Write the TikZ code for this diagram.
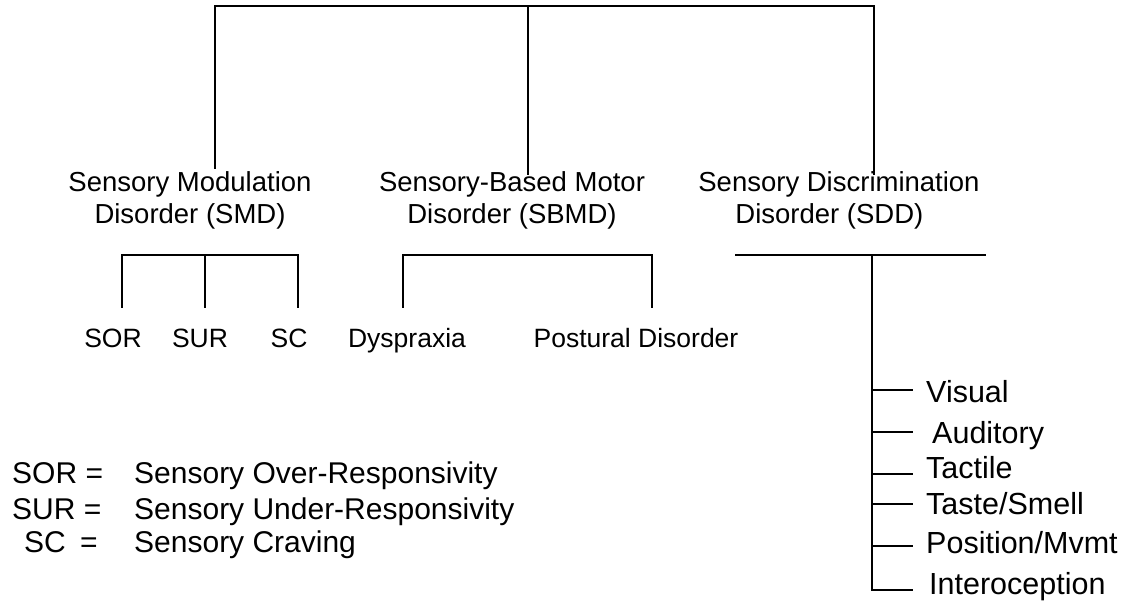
\documentclass[tikz,border=0pt]{standalone}
\usepackage{fontspec}
\setmainfont{Liberation Sans}
\begin{document}
\begin{tikzpicture}[x=1pt,y=-1pt,
  conn/.style={line width=1.7pt, line cap=rect},
  head/.style={font=\fontsize{27.5}{32}\selectfont, inner sep=0pt},
  leaf/.style={font=\fontsize{26.5}{32}\selectfont, inner xsep=0pt, inner ysep=0pt,
               text height=20pt, text depth=6pt, anchor=base},
  sense/.style={font=\fontsize{30.5}{34}\selectfont, inner sep=0pt, anchor=base west},
  legend/.style={font=\fontsize{30}{34}\selectfont, inner sep=0pt, anchor=base west}]
\useasboundingbox (0,0) rectangle (1141,600);

% top level
\coordinate (t1) at (215,6);
\coordinate (t2) at (528,6);
\coordinate (t3) at (874,6);
\draw[conn] (t1) -- (t3);

% headings
\node[head, align=center] (smd) at (190,200) {Sensory Modulation\\Disorder (SMD)};
\node[head, align=center] (sbmd) at (512,200) {Sensory-Based Motor\\Disorder (SBMD)};
\node[head, align=left] (sdd) at (839,200) {Sensory Discrimination\\\hspace*{37pt}Disorder (SDD)};

\draw[conn] (t1) -- ([yshift=3pt]t1 |- smd.north);
\draw[conn] (t2) -- ([yshift=-3pt]t2 |- sbmd.north);
\draw[conn] (t3) -- ([yshift=-3pt]t3 |- sdd.north);

% SMD bracket
\coordinate (a1) at (122,255);
\coordinate (a2) at (205,255);
\coordinate (a3) at (298,255);
\draw[conn] (a1) -- (a3);
\node[leaf] (sor) at (113,347) {SOR};
\node[leaf] (sur) at (200,347) {SUR};
\node[leaf] (sc) at (289,347) {SC};
\draw[conn] (a1) -- ([yshift=20pt]a1 |- sor.north);
\draw[conn] (a2) -- ([yshift=20pt]a2 |- sur.north);
\draw[conn] (a3) -- ([yshift=20pt]a3 |- sc.north);

% SBMD bracket
\coordinate (m1) at (403,255);
\coordinate (m2) at (652,255);
\draw[conn] (m1) -- (m2);
\node[leaf] (dys) at (407,347) {Dyspraxia};
\node[leaf] (pos) at (636,347) {Postural Disorder};
\draw[conn] (m1) -- ([yshift=20pt]m1 |- dys.north);
\draw[conn] (m2) -- ([yshift=20pt]m2 |- pos.north);

% SDD bracket and list
\coordinate (d1) at (736,255);
\coordinate (d2) at (985,255);
\coordinate (dc) at (872,255);
\draw[conn] (d1) -- (d2);
\node[sense] (vis) at (926,402) {Visual};
\node[sense] (aud) at (932,443) {Auditory};
\node[sense] (tac) at (926,478) {Tactile};
\node[sense] (tas) at (926,514) {Taste/Smell};
\node[sense] (pom) at (926,553) {Position/Mvmt};
\node[sense] (int) at (929,594) {Interoception};
\coordinate (dend) at (872,590);
\draw[conn] (dc) -- (dend);
\foreach \n/\y in {vis/390,aud/432,tac/474,tas/504,pom/546,int/590}
  \draw[conn] (872,\y) -- ([xshift=-14pt]vis.west |- 872,\y);

% legend
\node[legend] (l1a) at (12,483) {SOR =};
\node[legend] (l1b) at (134,483) {Sensory Over-Responsivity};
\node[legend] (l2a) at (12,519) {SUR =};
\node[legend] (l2b) at (134,519) {Sensory Under-Responsivity};
\node[legend] (l3a) at (24,552) {SC};
\node[legend] (l3c) at (80,552) {=};
\node[legend] (l3b) at (134,552) {Sensory Craving};
\end{tikzpicture}
\end{document}
